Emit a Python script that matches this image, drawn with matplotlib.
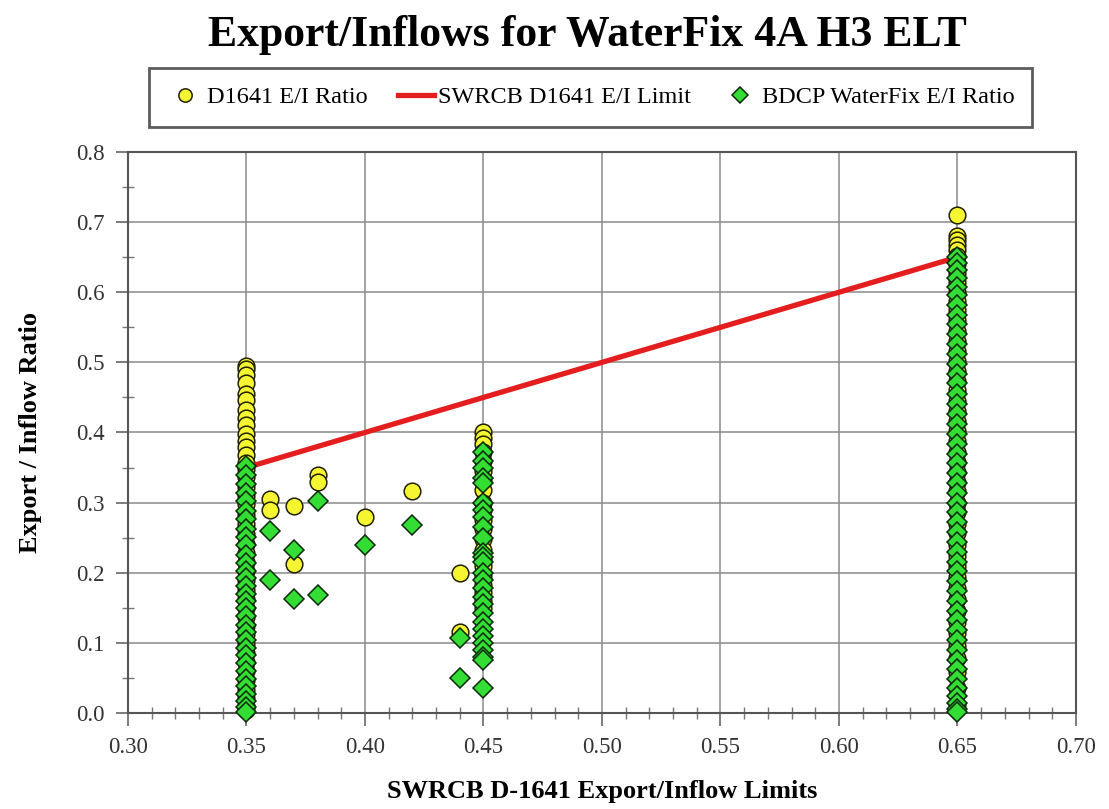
import matplotlib
matplotlib.use("Agg")
import matplotlib.pyplot as plt
from matplotlib.ticker import MultipleLocator, FormatStrFormatter

plt.rcParams['font.family'] = ['Liberation Serif', 'DejaVu Serif']

# ---------------- data ----------------
title = "Export/Inflows for WaterFix 4A H3 ELT"
xlabel = "SWRCB D-1641 Export/Inflow Limits"
ylabel = "Export / Inflow Ratio"
series_names = ["D1641 E/I Ratio", "SWRCB D1641 E/I Limit", "BDCP WaterFix E/I Ratio"]

# D1641 E/I ratio (yellow circles)
d1641_x_035 = [0.35] * 42
d1641_y_035 = [0.495, 0.490, 0.482, 0.470, 0.455, 0.447, 0.432, 0.420, 0.410, 0.398,
               0.388, 0.379, 0.368, 0.357, 0.348, 0.336, 0.322, 0.310, 0.298, 0.283,
               0.270, 0.255, 0.241, 0.228, 0.215, 0.203, 0.190, 0.176, 0.162, 0.150,
               0.137, 0.124, 0.112, 0.098, 0.086, 0.072, 0.060, 0.047, 0.033, 0.021,
               0.010, 0.004]
d1641_x_mid = [0.36, 0.36, 0.37, 0.37, 0.38, 0.38, 0.40, 0.42, 0.44, 0.44]
d1641_y_mid = [0.305, 0.290, 0.295, 0.212, 0.340, 0.330, 0.280, 0.316, 0.200, 0.115]
d1641_x_045 = [0.45] * 21
d1641_y_045 = [0.400, 0.392, 0.383, 0.372, 0.360, 0.345, 0.332, 0.318, 0.300, 0.290,
               0.275, 0.262, 0.248, 0.232, 0.220, 0.210, 0.195, 0.182, 0.172, 0.160,
               0.150]
d1641_x_065 = [0.65] * 48
d1641_y_065 = [0.710, 0.680, 0.675, 0.668, 0.660, 0.652, 0.640, 0.628, 0.615, 0.600,
               0.588, 0.574, 0.560, 0.545, 0.530, 0.516, 0.502, 0.488, 0.474, 0.460,
               0.445, 0.430, 0.416, 0.402, 0.388, 0.372, 0.358, 0.344, 0.330, 0.316,
               0.300, 0.286, 0.270, 0.256, 0.240, 0.224, 0.210, 0.194, 0.178, 0.162,
               0.146, 0.130, 0.114, 0.096, 0.078, 0.058, 0.036, 0.012]

# SWRCB D1641 E/I limit (red line)
limit_x = [0.35, 0.45, 0.65]
limit_y = [0.35, 0.45, 0.65]

# BDCP WaterFix E/I ratio (green diamonds)
bdcp_x_035 = [0.35] * 32
bdcp_y_035 = [0.352, 0.340, 0.327, 0.313, 0.302, 0.288, 0.276, 0.262, 0.251, 0.240,
              0.226, 0.214, 0.203, 0.192, 0.181, 0.170, 0.160, 0.149, 0.138, 0.126,
              0.115, 0.104, 0.093, 0.082, 0.071, 0.060, 0.049, 0.038, 0.027, 0.017,
              0.008, 0.002]
bdcp_x_mid = [0.36, 0.36, 0.37, 0.37, 0.38, 0.38, 0.40, 0.42, 0.44, 0.44]
bdcp_y_mid = [0.260, 0.190, 0.232, 0.162, 0.303, 0.168, 0.240, 0.268, 0.107, 0.050]
bdcp_x_045 = [0.45] * 27
bdcp_y_045 = [0.372, 0.360, 0.350, 0.335, 0.328, 0.300, 0.290, 0.280, 0.265, 0.250,
              0.228, 0.222, 0.215, 0.200, 0.190, 0.178, 0.165, 0.155, 0.142, 0.130,
              0.120, 0.110, 0.100, 0.090, 0.080, 0.075, 0.035]
bdcp_x_065 = [0.65] * 50
bdcp_y_065 = [0.650, 0.642, 0.632, 0.620, 0.608, 0.596, 0.582, 0.568, 0.555, 0.540,
              0.526, 0.512, 0.498, 0.484, 0.470, 0.455, 0.440, 0.426, 0.412, 0.398,
              0.384, 0.370, 0.356, 0.342, 0.328, 0.314, 0.300, 0.286, 0.272, 0.258,
              0.244, 0.230, 0.216, 0.202, 0.188, 0.174, 0.160, 0.146, 0.132, 0.118,
              0.104, 0.090, 0.076, 0.062, 0.048, 0.036, 0.024, 0.014, 0.006, 0.001]

d1641_x = d1641_x_035 + d1641_x_mid + d1641_x_045 + d1641_x_065
d1641_y = d1641_y_035 + d1641_y_mid + d1641_y_045 + d1641_y_065
bdcp_x = bdcp_x_035 + bdcp_x_mid + bdcp_x_045 + bdcp_x_065
bdcp_y = bdcp_y_035 + bdcp_y_mid + bdcp_y_045 + bdcp_y_065

# ---------------- plot ----------------
fig = plt.figure(figsize=(11.09, 8.09), dpi=100)
ax = fig.add_axes([0.1154, 0.1187, 0.8548, 0.6934])

ax.plot(d1641_x, d1641_y, linestyle='none', marker='o', markersize=12,
        markerfacecolor='#F5F532', markeredgecolor='#222200', markeredgewidth=1.1,
        label=series_names[0], zorder=3, clip_on=False)
ax.plot(limit_x, limit_y, color='#E41E1E', linewidth=3.8, label=series_names[1], zorder=4)
ax.plot(bdcp_x, bdcp_y, linestyle='none', marker='D', markersize=10,
        markerfacecolor='#33DD33', markeredgecolor='#0A2A0A', markeredgewidth=1.1,
        label=series_names[2], zorder=5, clip_on=False)

ax.set_xlim(0.30, 0.70)
ax.set_ylim(0.0, 0.8)
ax.xaxis.set_major_locator(MultipleLocator(0.05))
ax.xaxis.set_minor_locator(MultipleLocator(0.01))
ax.yaxis.set_major_locator(MultipleLocator(0.1))
ax.yaxis.set_minor_locator(MultipleLocator(0.05))
ax.xaxis.set_major_formatter(FormatStrFormatter('%.2f'))
ax.yaxis.set_major_formatter(FormatStrFormatter('%.1f'))

ax.grid(True, which='major', color='#8a8a8a', linewidth=1.1)
ax.set_axisbelow(True)
for s in ax.spines.values():
    s.set_color('#555555')
    s.set_linewidth(1.5)

ax.tick_params(which='major', direction='out', length=9, width=1.2, color='#666666',
               labelsize=16.5, labelcolor='#333333', pad=8)
ax.tick_params(which='minor', direction='inout', length=9, width=1.0, color='#777777')

ax.set_xlabel(xlabel, fontsize=19, fontweight='bold', labelpad=16)
ax.set_ylabel(ylabel, fontsize=19, fontweight='bold', labelpad=24)

fig.text(0.530, 0.957, title, ha='center', va='center', fontsize=31.5, fontweight='bold')

leg = fig.legend(loc='center', bbox_to_anchor=(0.5325, 0.8795), ncol=3, fontsize=17.5,
                 frameon=True, fancybox=False, edgecolor='#333333',
                 handlelength=1.5, columnspacing=1.25, handletextpad=0.15,
                 borderpad=0.75, markerscale=0.8)
leg.get_frame().set_linewidth(2.0)

fig.savefig('out.png', dpi=100)
